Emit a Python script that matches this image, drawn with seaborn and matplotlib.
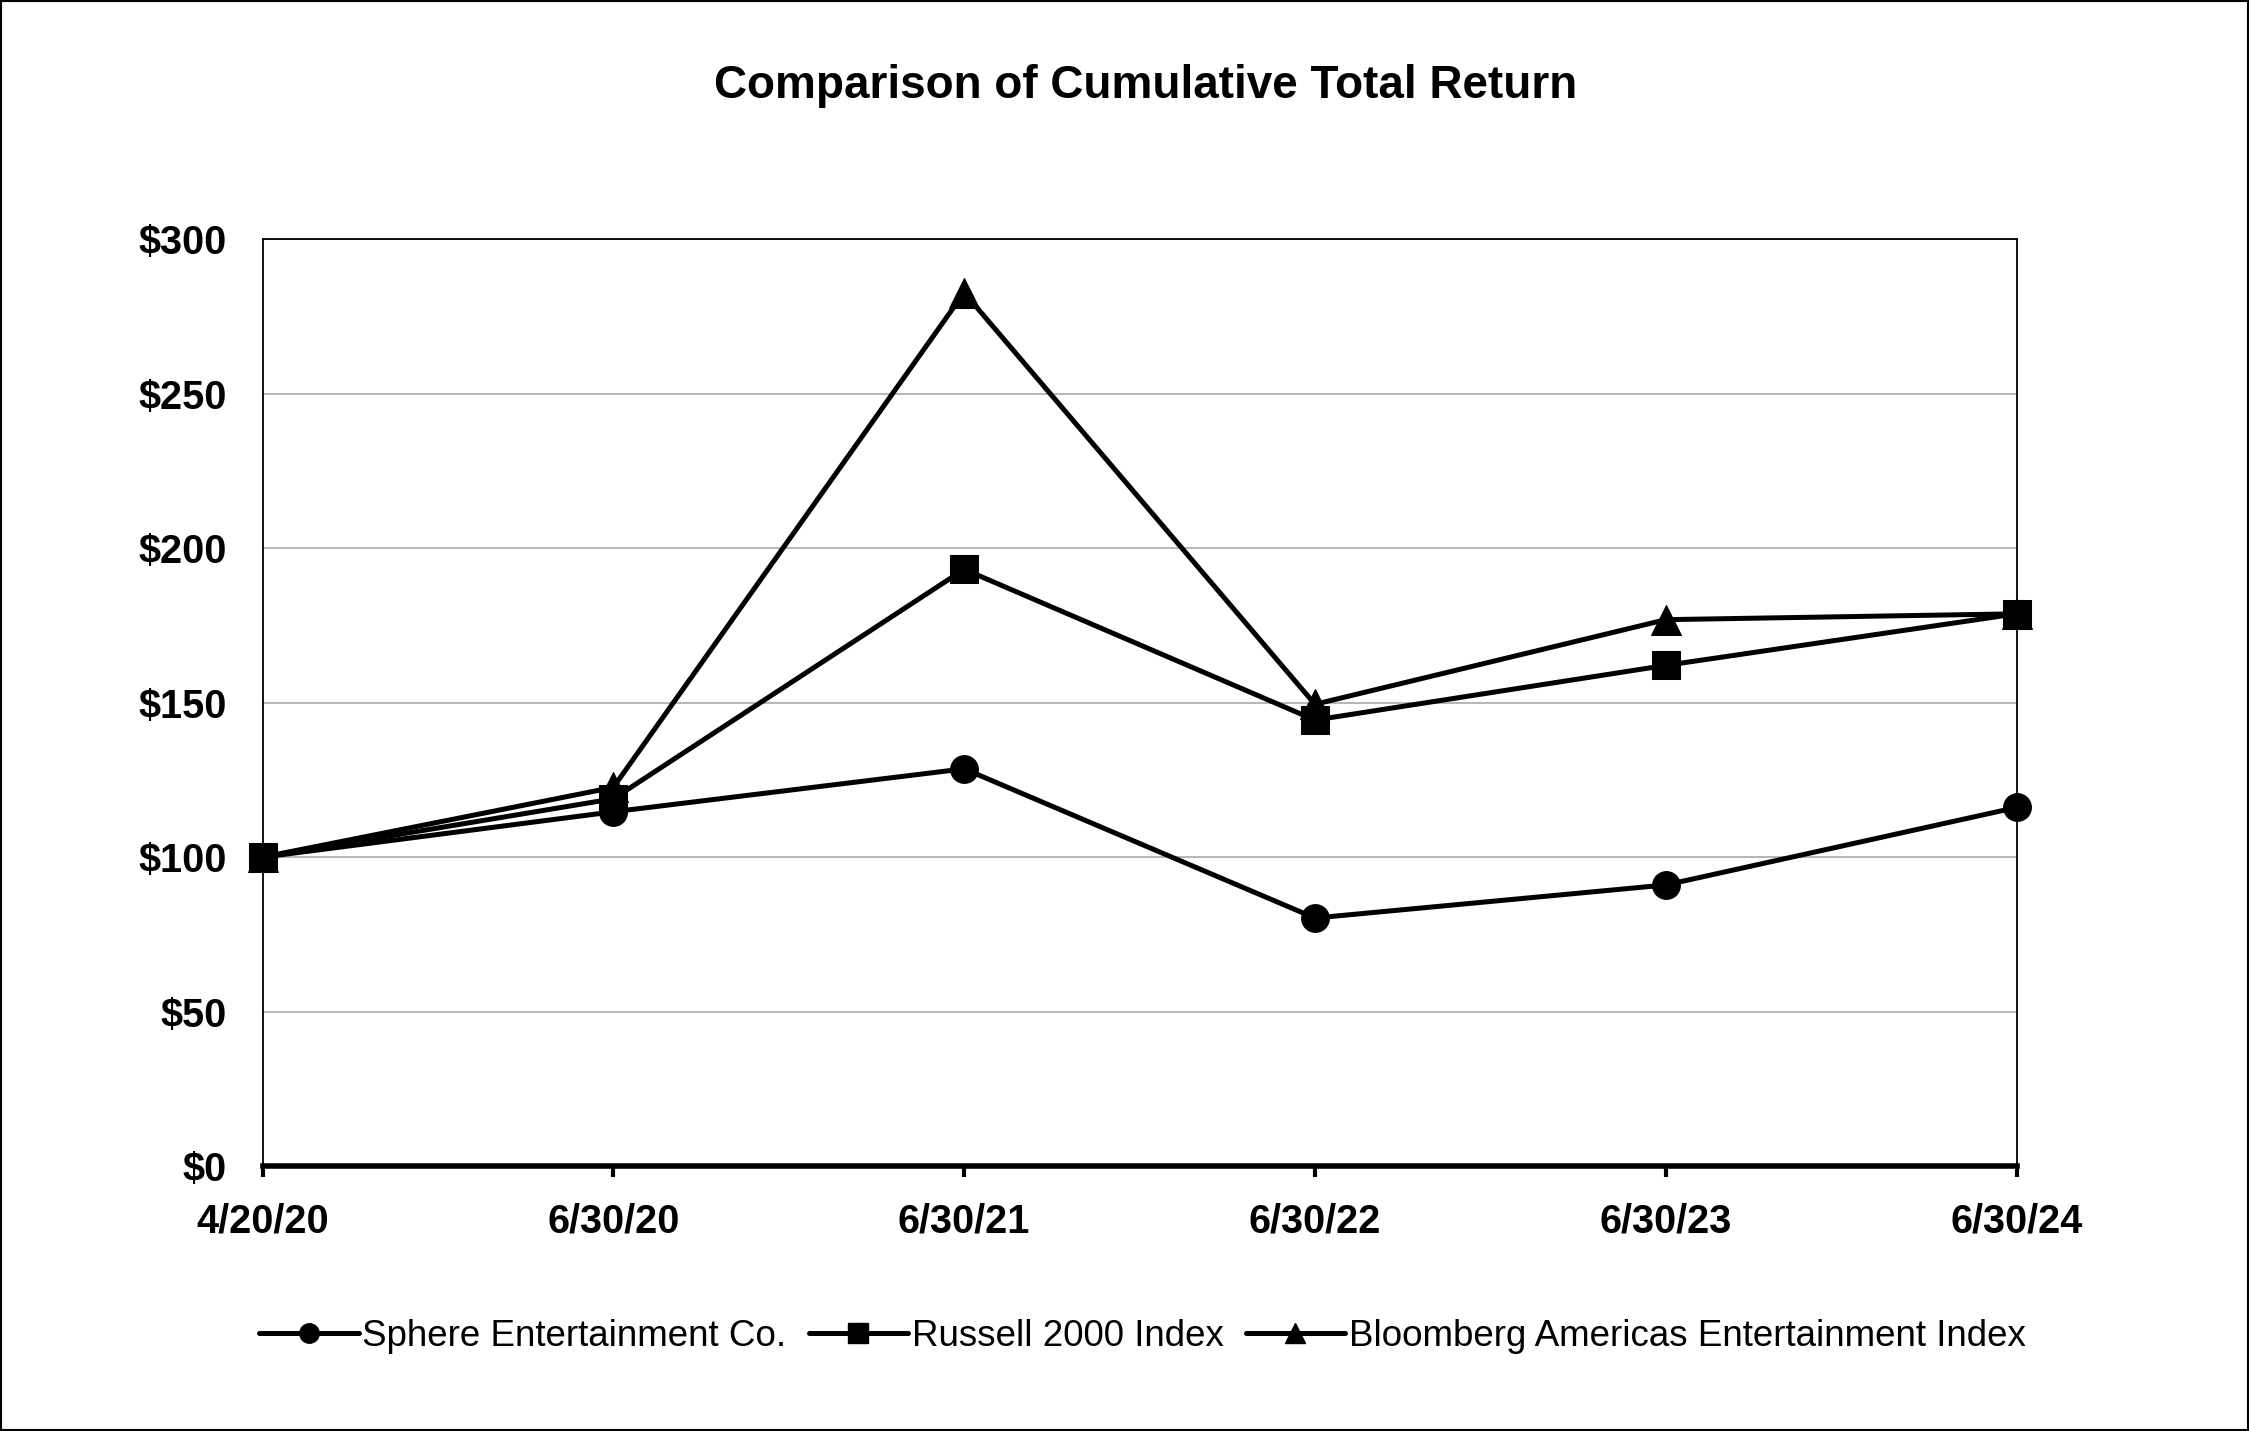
import matplotlib
matplotlib.use("Agg")
import matplotlib.pyplot as plt
from matplotlib.lines import Line2D
from matplotlib.patches import Rectangle
import pandas as pd
import seaborn as sns

dates = ["4/20/20", "6/30/20", "6/30/21", "6/30/22", "6/30/23", "6/30/24"]
sphere = [100, 114.7, 128.6, 80.3, 91.0, 116.1]
russell = [100, 118.9, 193.2, 144.4, 162.1, 178.8]
bloomberg = [100, 122.6, 282.8, 149.5, 176.9, 178.8]
series_names = ["Sphere Entertainment Co.", "Russell 2000 Index",
                "Bloomberg Americas Entertainment Index"]
y_ticks = [0, 50, 100, 150, 200, 250, 300]

rows = []
for name, vals in zip(series_names, [sphere, russell, bloomberg]):
    for d, v in zip(dates, vals):
        rows.append({"date": d, "value": v, "series": name})
df = pd.DataFrame(rows)

sns.set_style("white")
plt.rcParams["font.family"] = ["Liberation Sans", "DejaVu Sans"]
plt.rcParams["text.color"] = "black"
plt.rcParams["xtick.color"] = "black"
plt.rcParams["ytick.color"] = "black"

fig = plt.figure(figsize=(22.49, 14.31), dpi=100)
ax = fig.add_axes([262.5 / 2249, 1 - 1166 / 1431, (2016.6 - 262.5) / 2249, (1166 - 239.5) / 1431])

mk = {series_names[0]: "o", series_names[1]: "s", series_names[2]: "^"}
# draw in reverse so Sphere ends up on top like the original
for name in series_names[::-1]:
    sub = df[df["series"] == name]
    sns.lineplot(data=sub, x="date", y="value", ax=ax, color="black",
                 linewidth=3.6, marker=mk[name], markersize=20 if mk[name] != "^" else 21,
                 markeredgecolor="black", markerfacecolor="black",
                 sort=False, legend=False, clip_on=False, zorder=3)

ax.set_xlim(0, len(dates) - 1)
ax.set_ylim(0, 300)
ax.set_yticks(y_ticks)
ax.set_yticklabels([f"${v}" for v in y_ticks])
ax.set_xticks(range(len(dates)))
ax.set_xticklabels(dates)
ax.set_xlabel("")
ax.set_ylabel("")
ax.grid(axis="y", color="#b0b0b0", linewidth=1.3)
ax.grid(axis="x", visible=False)
ax.set_axisbelow(True)

for s in ["top", "right", "left"]:
    ax.spines[s].set_visible(True)
    ax.spines[s].set_color("black")
    ax.spines[s].set_linewidth(1.3)
ax.spines["bottom"].set_visible(True)
ax.spines["bottom"].set_color("black")
ax.spines["bottom"].set_linewidth(4)

ax.tick_params(axis="x", which="major", direction="out", length=8, width=3, color="black",
               bottom=True, pad=18, labelsize=28.5)
ax.tick_params(axis="y", length=0, pad=26, labelsize=28.5)
for lab in ax.get_xticklabels() + ax.get_yticklabels():
    lab.set_fontweight("bold")

fig.text(0.5096, 1 - 86 / 1431, "Comparison of Cumulative Total Return", ha="center", va="center",
         fontsize=33, fontweight="bold")

handles = [Line2D([], [], color="black", linewidth=3.6, marker=mk[n], markersize=14) for n in series_names]
fig.legend(handles, series_names, loc="center", bbox_to_anchor=(0.508, 1 - 1336 / 1431), ncol=3,
           frameon=False, fontsize=26.5, handlelength=2.7, handletextpad=0.1, columnspacing=0.6)

fig.patches.append(Rectangle((0.0005, 0.0005), 0.999, 0.999, transform=fig.transFigure,
                             fill=False, edgecolor="black", linewidth=1.5))

fig.savefig("out.png", dpi=100)
